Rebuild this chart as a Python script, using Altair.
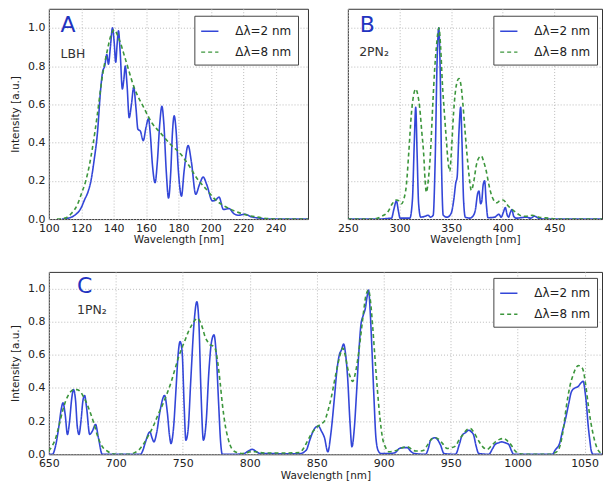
import altair as alt
import pandas as pd

LABEL_2 = "Δλ=2 nm"
LABEL_8 = "Δλ=8 nm"
BLUE = "#3346d8"
GREEN = "#3c963c"

# ---------------- Panel A : LBH ----------------
A_NARROW = [(108, 0), (112, 0.005), (116, 0.02), (120, 0.06), (122, 0.1), (124.5, 0.15), (126, 0.2),
            (128, 0.31), (130, 0.45), (132, 0.68), (133.2, 0.77), (134.5, 0.8), (135.8, 0.86), (136.8, 0.81),
            (138, 0.9), (139.3, 1.0), (140.3, 0.93), (141.3, 0.82), (142.2, 0.92), (143, 0.985), (144, 0.88),
            (145.4, 0.68), (146.3, 0.73), (147.2, 0.8), (148.3, 0.7), (149.6, 0.53), (151, 0.6), (152.4, 0.69),
            (153.8, 0.58), (155, 0.47), (156.5, 0.46), (158.3, 0.41), (160, 0.48), (161.5, 0.525), (162.6, 0.45),
            (164, 0.28), (165.6, 0.19), (167, 0.3), (168.5, 0.5), (169.8, 0.59), (171, 0.5), (172.5, 0.25),
            (173.9, 0.11), (175.3, 0.25), (176.3, 0.45), (177.4, 0.54), (178.5, 0.47), (180, 0.25), (181.9, 0.12),
            (183.5, 0.25), (186, 0.385), (188, 0.3), (190.7, 0.13), (193, 0.18), (195.3, 0.22), (197.5, 0.18),
            (201, 0.095), (203, 0.1), (205.1, 0.115), (207.8, 0.05), (211.3, 0.055), (214, 0.03), (217, 0.02),
            (221, 0.025), (225, 0.012), (230, 0.005), (236, 0), (260, 0)]
A_WIDE = [(105, 0), (110, 0.005), (114, 0.03), (117.7, 0.077), (120, 0.13), (122.8, 0.2), (125, 0.28),
          (127, 0.375), (130, 0.55), (133.1, 0.75), (135.8, 0.87), (138.3, 0.96), (140.3, 0.99), (143.4, 0.94),
          (147.5, 0.83), (152.6, 0.69), (158.8, 0.58), (163.9, 0.5), (169, 0.45), (175.2, 0.39), (181.4, 0.34),
          (186.5, 0.28), (191.7, 0.21), (196.8, 0.16), (203, 0.1), (210.2, 0.06), (218.5, 0.03), (228.8, 0.01),
          (241, 0), (260, 0)]

# ---------------- Panel B : 2PN2 ----------------
B_NARROW = [(250, 0), (280, 0), (288, 0.003), (292.3, 0.005), (294.5, 0.05), (297, 0.095), (299, 0.04),
            (300.5, 0.005), (310, 0.005), (312.5, 0.1), (314.3, 0.4), (315.7, 0.585), (317, 0.35), (318.5, 0.08),
            (320.5, 0.01), (325, 0.015), (327.6, 0.02), (330, 0.01), (332.6, 0.02), (334.5, 0.3), (336.5, 0.85),
            (338, 1.0), (339.3, 0.8), (340.8, 0.25), (342.3, 0.02), (346, 0.01), (350, 0.03), (352.5, 0.1),
            (354.5, 0.19), (355.8, 0.22), (357.5, 0.45), (359.2, 0.585), (360.5, 0.4), (362, 0.1), (363.7, 0.01),
            (368, 0.005), (371, 0.015), (373.5, 0.05), (375.5, 0.13), (376.9, 0.147), (378.5, 0.08), (379.5, 0.09),
            (381, 0.18), (382.4, 0.2), (384, 0.08), (385.6, 0.007), (392, 0.01), (396.2, 0.025), (398.4, 0.01),
            (400.5, 0.035), (402.4, 0.06), (404.3, 0.02), (405.6, 0.01), (407.3, 0.035), (408.8, 0.05),
            (410.5, 0.015), (413, 0.005), (422.6, 0.01), (427, 0.005), (430.7, 0.015), (435.5, 0.002), (445, 0),
            (500, 0)]
B_WIDE = [(250, 0), (272, 0), (277.7, 0.003), (283, 0.015), (289, 0.04), (293, 0.08), (297, 0.1), (299.5, 0.095),
          (301.9, 0.08), (304.5, 0.11), (306.7, 0.18), (309, 0.35), (311.5, 0.55), (313.7, 0.65), (315.7, 0.68),
          (317.7, 0.65), (319.6, 0.58), (321.5, 0.46), (323.4, 0.34), (324.8, 0.2), (326, 0.14), (327.8, 0.2),
          (329.9, 0.34), (332.4, 0.62), (334, 0.78), (335.7, 0.9), (337, 0.97), (338.2, 1.0), (339.8, 0.9),
          (341.5, 0.71), (343.5, 0.55), (345.4, 0.41), (347, 0.3), (348.6, 0.25), (350.5, 0.38), (352.4, 0.56),
          (355, 0.7), (357.5, 0.735), (359.5, 0.7), (361.4, 0.6), (363.3, 0.47), (365.3, 0.34), (367.5, 0.22),
          (369.5, 0.15), (372, 0.2), (374.3, 0.28), (376.8, 0.32), (379.2, 0.33), (381.5, 0.3), (384, 0.25),
          (386.5, 0.18), (388.8, 0.13), (391, 0.1), (393.7, 0.085), (397, 0.095), (400.1, 0.1), (402.5, 0.09),
          (405, 0.07), (408, 0.055), (411.4, 0.04), (415, 0.025), (419, 0.015), (423, 0.015), (428.5, 0.02),
          (432, 0.015), (435, 0.01), (444, 0.005), (455, 0), (500, 0)]

# ---------------- Panel C : 1PN2 ----------------
C_NARROW = [(650, 0), (652.7, 0.0), (655, 0.05), (657.7, 0.18), (659.2, 0.27), (660.6, 0.31), (662.2, 0.24),
            (663.9, 0.12), (665.5, 0.2), (667, 0.33), (668.4, 0.39), (670, 0.32), (671.2, 0.17), (672.5, 0.12),
            (674, 0.2), (675.4, 0.32), (676.7, 0.355), (678.2, 0.28), (680.5, 0.12), (682.5, 0.14), (684.9, 0.18),
            (687, 0.1), (689.9, 0.0), (695, 0), (718.3, 0), (720.5, 0.03), (722, 0.07), (725.5, 0.135), (727, 0.1),
            (728.5, 0.075), (730.5, 0.13), (733, 0.26), (736.4, 0.355), (738.5, 0.25), (740, 0.12), (741.2, 0.065),
            (743, 0.15), (745, 0.4), (746.5, 0.6), (748, 0.68), (749.5, 0.62), (751, 0.3), (752.3, 0.085),
            (754, 0.15), (756, 0.45), (758.5, 0.8), (760.5, 0.92), (762, 0.8), (763.5, 0.4), (765.4, 0.085),
            (767.5, 0.2), (769.5, 0.5), (771.5, 0.68), (773.3, 0.72), (775, 0.6), (776.8, 0.3), (778.2, 0.08),
            (779.5, 0), (785, 0), (795, 0.002), (799, 0.02), (802, 0.03), (805, 0.015), (808, 0.005), (837, 0.003),
            (842.2, 0.025), (845, 0.09), (847.1, 0.135), (849.5, 0.165), (851.3, 0.17), (853.5, 0.14),
            (855.8, 0.1), (858.3, 0.015), (860.5, 0.12), (863.2, 0.34), (865, 0.5), (866.9, 0.6), (868.5, 0.63),
            (870.1, 0.665), (871.6, 0.6), (873.1, 0.46), (874.8, 0.2), (876.3, 0.045), (878, 0.15), (879.8, 0.38),
            (881.5, 0.62), (883, 0.78), (884.8, 0.84), (886.3, 0.88), (887.6, 0.95), (888.7, 0.99), (890, 0.85),
            (891.2, 0.64), (892.7, 0.35), (894.2, 0.1), (896, 0.02), (898, 0.005), (905, 0.005), (908.6, 0.01),
            (911.5, 0.034), (914, 0.04), (917.7, 0.04), (920, 0.02), (922.7, 0.005), (931.3, 0.0), (933.5, 0.04),
            (935, 0.085), (938.3, 0.1), (940.5, 0.085), (942.5, 0.055), (945, 0.005), (953.6, 0), (956.5, 0.06),
            (958.6, 0.115), (961, 0.13), (963.5, 0.145), (965.5, 0.135), (967.2, 0.115), (969, 0.05), (971, 0.005),
            (978.5, 0), (981, 0.03), (983.3, 0.06), (986, 0.07), (988.3, 0.075), (990.5, 0.07), (993.3, 0.06),
            (995.5, 0.02), (997, 0), (1026, 0), (1028, 0.025), (1031.5, 0.07), (1033.5, 0.14), (1035.4, 0.2),
            (1038, 0.3), (1040.3, 0.38), (1042.8, 0.4), (1045.3, 0.41), (1047.2, 0.43), (1049, 0.44),
            (1050.3, 0.38), (1051.4, 0.3), (1052.6, 0.18), (1053.9, 0.085), (1055, 0.02), (1056.4, 0), (1063, 0)]
C_WIDE = [(650, 0.02), (652.5, 0.05), (655.2, 0.1), (657.5, 0.17), (660.2, 0.26), (662.5, 0.32), (665.1, 0.365),
          (668.8, 0.39), (671, 0.39), (673.8, 0.375), (676, 0.345), (678.7, 0.3), (681, 0.25), (683.7, 0.185),
          (686, 0.12), (688.6, 0.065), (691, 0.035), (693.5, 0.02), (697.2, 0.003), (700, 0), (710, 0), (714, 0.01),
          (717.1, 0.025), (720.5, 0.06), (724.5, 0.115), (728, 0.17), (731.9, 0.245), (735, 0.3), (738.2, 0.365),
          (741.5, 0.44), (744.4, 0.52), (747, 0.59), (749.3, 0.64), (751.8, 0.69), (754.2, 0.74), (756.8, 0.78),
          (759.2, 0.81), (761, 0.82), (762.9, 0.8), (764.8, 0.76), (766.6, 0.71), (768.5, 0.68), (770.3, 0.66),
          (772.2, 0.655), (774.1, 0.64), (776, 0.56), (777.8, 0.44), (779.6, 0.3), (781.5, 0.185), (784, 0.09),
          (786.5, 0.035), (790, 0.012), (793.9, 0.005), (798, 0.01), (802, 0.018), (806, 0.012), (812, 0.008),
          (825, 0.008), (837, 0.01), (840.5, 0.04), (843.4, 0.085), (846.5, 0.13), (849.6, 0.16), (852.7, 0.18),
          (855.8, 0.2), (858.3, 0.26), (860.8, 0.34), (863.2, 0.44), (865.7, 0.54), (867.5, 0.6), (869.4, 0.64),
          (871.2, 0.6), (873.1, 0.52), (874.9, 0.47), (876.8, 0.44), (878.6, 0.48), (880.5, 0.565), (882.2, 0.67),
          (883.8, 0.78), (885.3, 0.88), (886.8, 0.96), (888.7, 0.99), (890.2, 0.92), (891.7, 0.78), (893.5, 0.58),
          (895.4, 0.38), (897.2, 0.22), (899.1, 0.1), (901.5, 0.04), (904, 0.015), (908, 0.02), (911.5, 0.03),
          (914, 0.04), (917.7, 0.045), (921, 0.03), (923.9, 0.02), (927, 0.02), (930, 0.025), (933, 0.06),
          (936.3, 0.095), (938.8, 0.1), (941.2, 0.09), (944.5, 0.06), (947.4, 0.035), (950.5, 0.04),
          (953.6, 0.05), (956.5, 0.09), (959.8, 0.125), (962.3, 0.15), (964.8, 0.155), (967.5, 0.13), (971, 0.08),
          (974, 0.045), (977.2, 0.03), (980.3, 0.05), (983.4, 0.075), (986.5, 0.09), (989.5, 0.095),
          (992.5, 0.08), (995.7, 0.05), (998.2, 0.02), (1000.7, 0.005), (1005, 0), (1025, 0), (1028, 0.01),
          (1030.4, 0.025), (1033.5, 0.12), (1036.6, 0.3), (1039, 0.41), (1041.5, 0.48), (1043.5, 0.52),
          (1045.3, 0.535), (1047.2, 0.53), (1049, 0.505), (1050.8, 0.42), (1052.7, 0.3), (1054.5, 0.2),
          (1056.4, 0.12), (1058.3, 0.06), (1060.1, 0.025), (1063, 0.005)]

A_TICKS = [100, 120, 140, 160, 180, 200, 220, 240]
B_TICKS = [250, 300, 350, 400, 450]
C_TICKS = [650, 700, 750, 800, 850, 900, 950, 1000, 1050]
Y_TICKS = [0.0, 0.2, 0.4, 0.6, 0.8, 1.0]

FONT = "DejaVu Sans"


def to_df(narrow, wide):
    rows = [{"wl": w, "I": v, "series": LABEL_2, "k": 0} for w, v in narrow]
    rows += [{"wl": w, "I": v, "series": LABEL_8, "k": 1} for w, v in wide]
    return pd.DataFrame(rows)


def panel(narrow, wide, xdom, xticks, width, height, ylabels, tag, name, tag_xy, name_xy, leg_x, leg_y):
    df = to_df(narrow, wide)
    x = alt.X("wl:Q", scale=alt.Scale(domain=xdom, nice=False, zero=False),
              axis=alt.Axis(values=xticks, tickCount=len(xticks) + 2, format="d", title="Wavelength [nm]",
                            labelOverlap=False))
    if ylabels:
        yaxis = alt.Axis(values=Y_TICKS, tickCount=len(Y_TICKS) + 2, format=".1f", title="Intensity [a.u.]",
                         labelOverlap=False)
    else:
        yaxis = alt.Axis(values=Y_TICKS, tickCount=len(Y_TICKS) + 2, labels=False, title=None)
    y = alt.Y("I:Q", scale=alt.Scale(domain=[0, 1.1], nice=False), axis=yaxis)
    leg = alt.Legend(orient="none", legendX=leg_x, legendY=leg_y, title=None)
    color = alt.Color("series:N", scale=alt.Scale(domain=[LABEL_2, LABEL_8], range=[BLUE, GREEN]), legend=leg)
    dash = alt.StrokeDash("series:N", scale=alt.Scale(domain=[LABEL_2, LABEL_8], range=[[1, 0], [4, 3]]),
                          legend=leg)
    lines = alt.Chart(df).mark_line(strokeWidth=1.6, clip=True, interpolate="monotone").encode(
        x=x, y=y, color=color, strokeDash=dash, detail="k:N")

    tdf = pd.DataFrame([{"wl": tag_xy[0], "I": tag_xy[1], "t": tag}])
    ndf = pd.DataFrame([{"wl": name_xy[0], "I": name_xy[1], "t": name}])
    tag_txt = alt.Chart(tdf).mark_text(align="left", baseline="alphabetic", fontSize=22, font=FONT,
                                       color="#2233c0").encode(
        x=alt.X("wl:Q"), y=alt.Y("I:Q"), text="t:N")
    name_txt = alt.Chart(ndf).mark_text(align="left", baseline="alphabetic", fontSize=12.5, font=FONT,
                                        color="#333333").encode(
        x=alt.X("wl:Q"), y=alt.Y("I:Q"), text="t:N")
    return alt.layer(lines, tag_txt, name_txt).properties(width=width, height=height)


pA = panel(A_NARROW, A_WIDE, [100, 260], A_TICKS, 260, 211, True, "A", "LBH",
           (107.2, 0.98), (107.2, 0.845), 146, 7)
pB = panel(B_NARROW, B_WIDE, [250, 496], B_TICKS, 255, 211, False, "B", "2PN₂",
           (261.5, 0.98), (261.0, 0.855), 146, 7)
pC = panel(C_NARROW, C_WIDE, [650, 1063], C_TICKS, 555, 183, True, "C", "1PN₂",
           (671.0, 0.975), (671.0, 0.845), 446, 6)

top = alt.hconcat(pA, pB, spacing=40, bounds="flush").resolve_scale(
    color="independent", strokeDash="independent").resolve_legend(color="independent", strokeDash="independent")

chart = alt.vconcat(top, pC, spacing=25).resolve_scale(
    color="independent", strokeDash="independent").resolve_legend(
    color="independent", strokeDash="independent").properties(
    padding={"left": 10, "top": 7, "right": 0, "bottom": 0}, background="white"
).configure_view(stroke="#333333", strokeWidth=1).configure_axis(
    labelFont=FONT, labelFontSize=11, labelColor="#222222", titleFont=FONT, titleFontSize=10.5,
    titleFontWeight="normal", titleColor="#222222", gridColor="#bbbbbb", gridDash=[1, 2], gridWidth=1,
    ticks=False, domain=False, labelPadding=4, labelFlush=False
).configure_axisX(titlePadding=2, labelPadding=3).configure_axisY(titlePadding=7).configure_legend(
    strokeColor="#444444", fillColor="white", padding=6, symbolType="stroke", symbolSize=300,
    symbolStrokeWidth=1.5, labelFont=FONT, labelFontSize=12, labelColor="#222222", rowPadding=5,
    labelOffset=16, cornerRadius=0, labelLimit=200
)

chart.save("out.html", embed_options={"renderer": "svg", "actions": False})
